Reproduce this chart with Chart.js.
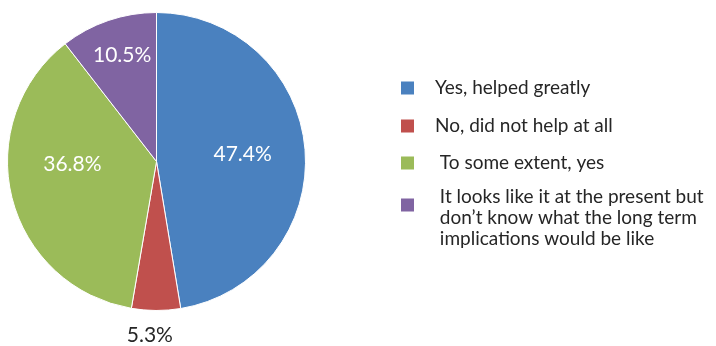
<!DOCTYPE html>
<html lang="en">
<head>
    <meta charset="UTF-8">
    <title>Did it help?</title>
    <script src="https://cdn.jsdelivr.net/npm/chart.js"></script>
    <style>
        html, body {
            margin: 0;
            padding: 0;
            background: #ffffff;
        }
        .chart-box {
            width: 716px;
            height: 346px;
        }
    </style>
</head>
<body>
    <div class="chart-box">
        <canvas id="pie-chart" width="716" height="346"></canvas>
    </div>

    <script>
        // categories (multi-line legend text)
        const categories = [
            ['Yes, helped greatly'],
            ['No, did not help at all'],
            [' To some extent, yes'],
            [' It looks like it at the present but', ' don\u2019t know what the long term', ' implications would be like']
        ];
        const shares = [47.4, 5.3, 36.8, 10.5];
        const sliceColors = ['#4a81bf', '#c0504d', '#9bbb59', '#8064a2'];

        const FONT = 'Lato, "Open Sans", sans-serif';

        // label placement tweaks (fraction of radius, extra angle in degrees)
        const labelRadius = [0.58, 1.17, 0.565, 0.75];
        const labelTurn = [0, 2, 12, 1];
        const labelColors = ['#ffffff', '#262626', '#ffffff', '#ffffff'];

        const sliceLabels = {
            id: 'sliceLabels',
            afterDatasetsDraw(chart) {
                const ctx = chart.ctx;
                const arcs = chart.getDatasetMeta(0).data;
                ctx.save();
                ctx.font = '21px ' + FONT;
                ctx.textAlign = 'center';
                ctx.textBaseline = 'middle';
                arcs.forEach((arc, i) => {
                    const p = arc.getProps(['x', 'y', 'startAngle', 'endAngle', 'outerRadius'], true);
                    const mid = (p.startAngle + p.endAngle) / 2 + labelTurn[i] * Math.PI / 180;
                    const r = p.outerRadius * labelRadius[i];
                    ctx.fillStyle = labelColors[i];
                    ctx.fillText(shares[i].toFixed(1) + '%', p.x + Math.cos(mid) * r, p.y + Math.sin(mid) * r);
                });
                ctx.restore();
            }
        };

        const sideLegend = {
            id: 'sideLegend',
            afterDraw(chart) {
                const ctx = chart.ctx;
                const boxX = 401, textX = 435, box = 13, lineH = 21;
                const rowY = [88, 126, 163, 197];
                ctx.save();
                ctx.font = '19px ' + FONT;
                ctx.textAlign = 'left';
                ctx.textBaseline = 'middle';
                categories.forEach((lines, i) => {
                    const squareY = lines.length > 1 ? rowY[i] + 8 : rowY[i];
                    ctx.fillStyle = sliceColors[i];
                    ctx.fillRect(boxX, squareY - box / 2, box, box);
                    ctx.fillStyle = '#262626';
                    lines.forEach((line, j) => {
                        ctx.fillText(line, textX, rowY[i] + j * lineH);
                    });
                });
                ctx.restore();
            }
        };

        new Chart(document.getElementById('pie-chart'), {
            type: 'pie',
            data: {
                labels: categories.map(l => l.join(' ').trim()),
                datasets: [{
                    data: shares,
                    backgroundColor: sliceColors,
                    borderColor: '#ffffff',
                    borderWidth: 1
                }]
            },
            options: {
                responsive: false,
                animation: false,
                layout: {
                    padding: { left: 7, top: 12, right: 410, bottom: 35 }
                },
                plugins: {
                    legend: { display: false },
                    tooltip: { enabled: false }
                }
            },
            plugins: [sliceLabels, sideLegend]
        });
    </script>
</body>
</html>
